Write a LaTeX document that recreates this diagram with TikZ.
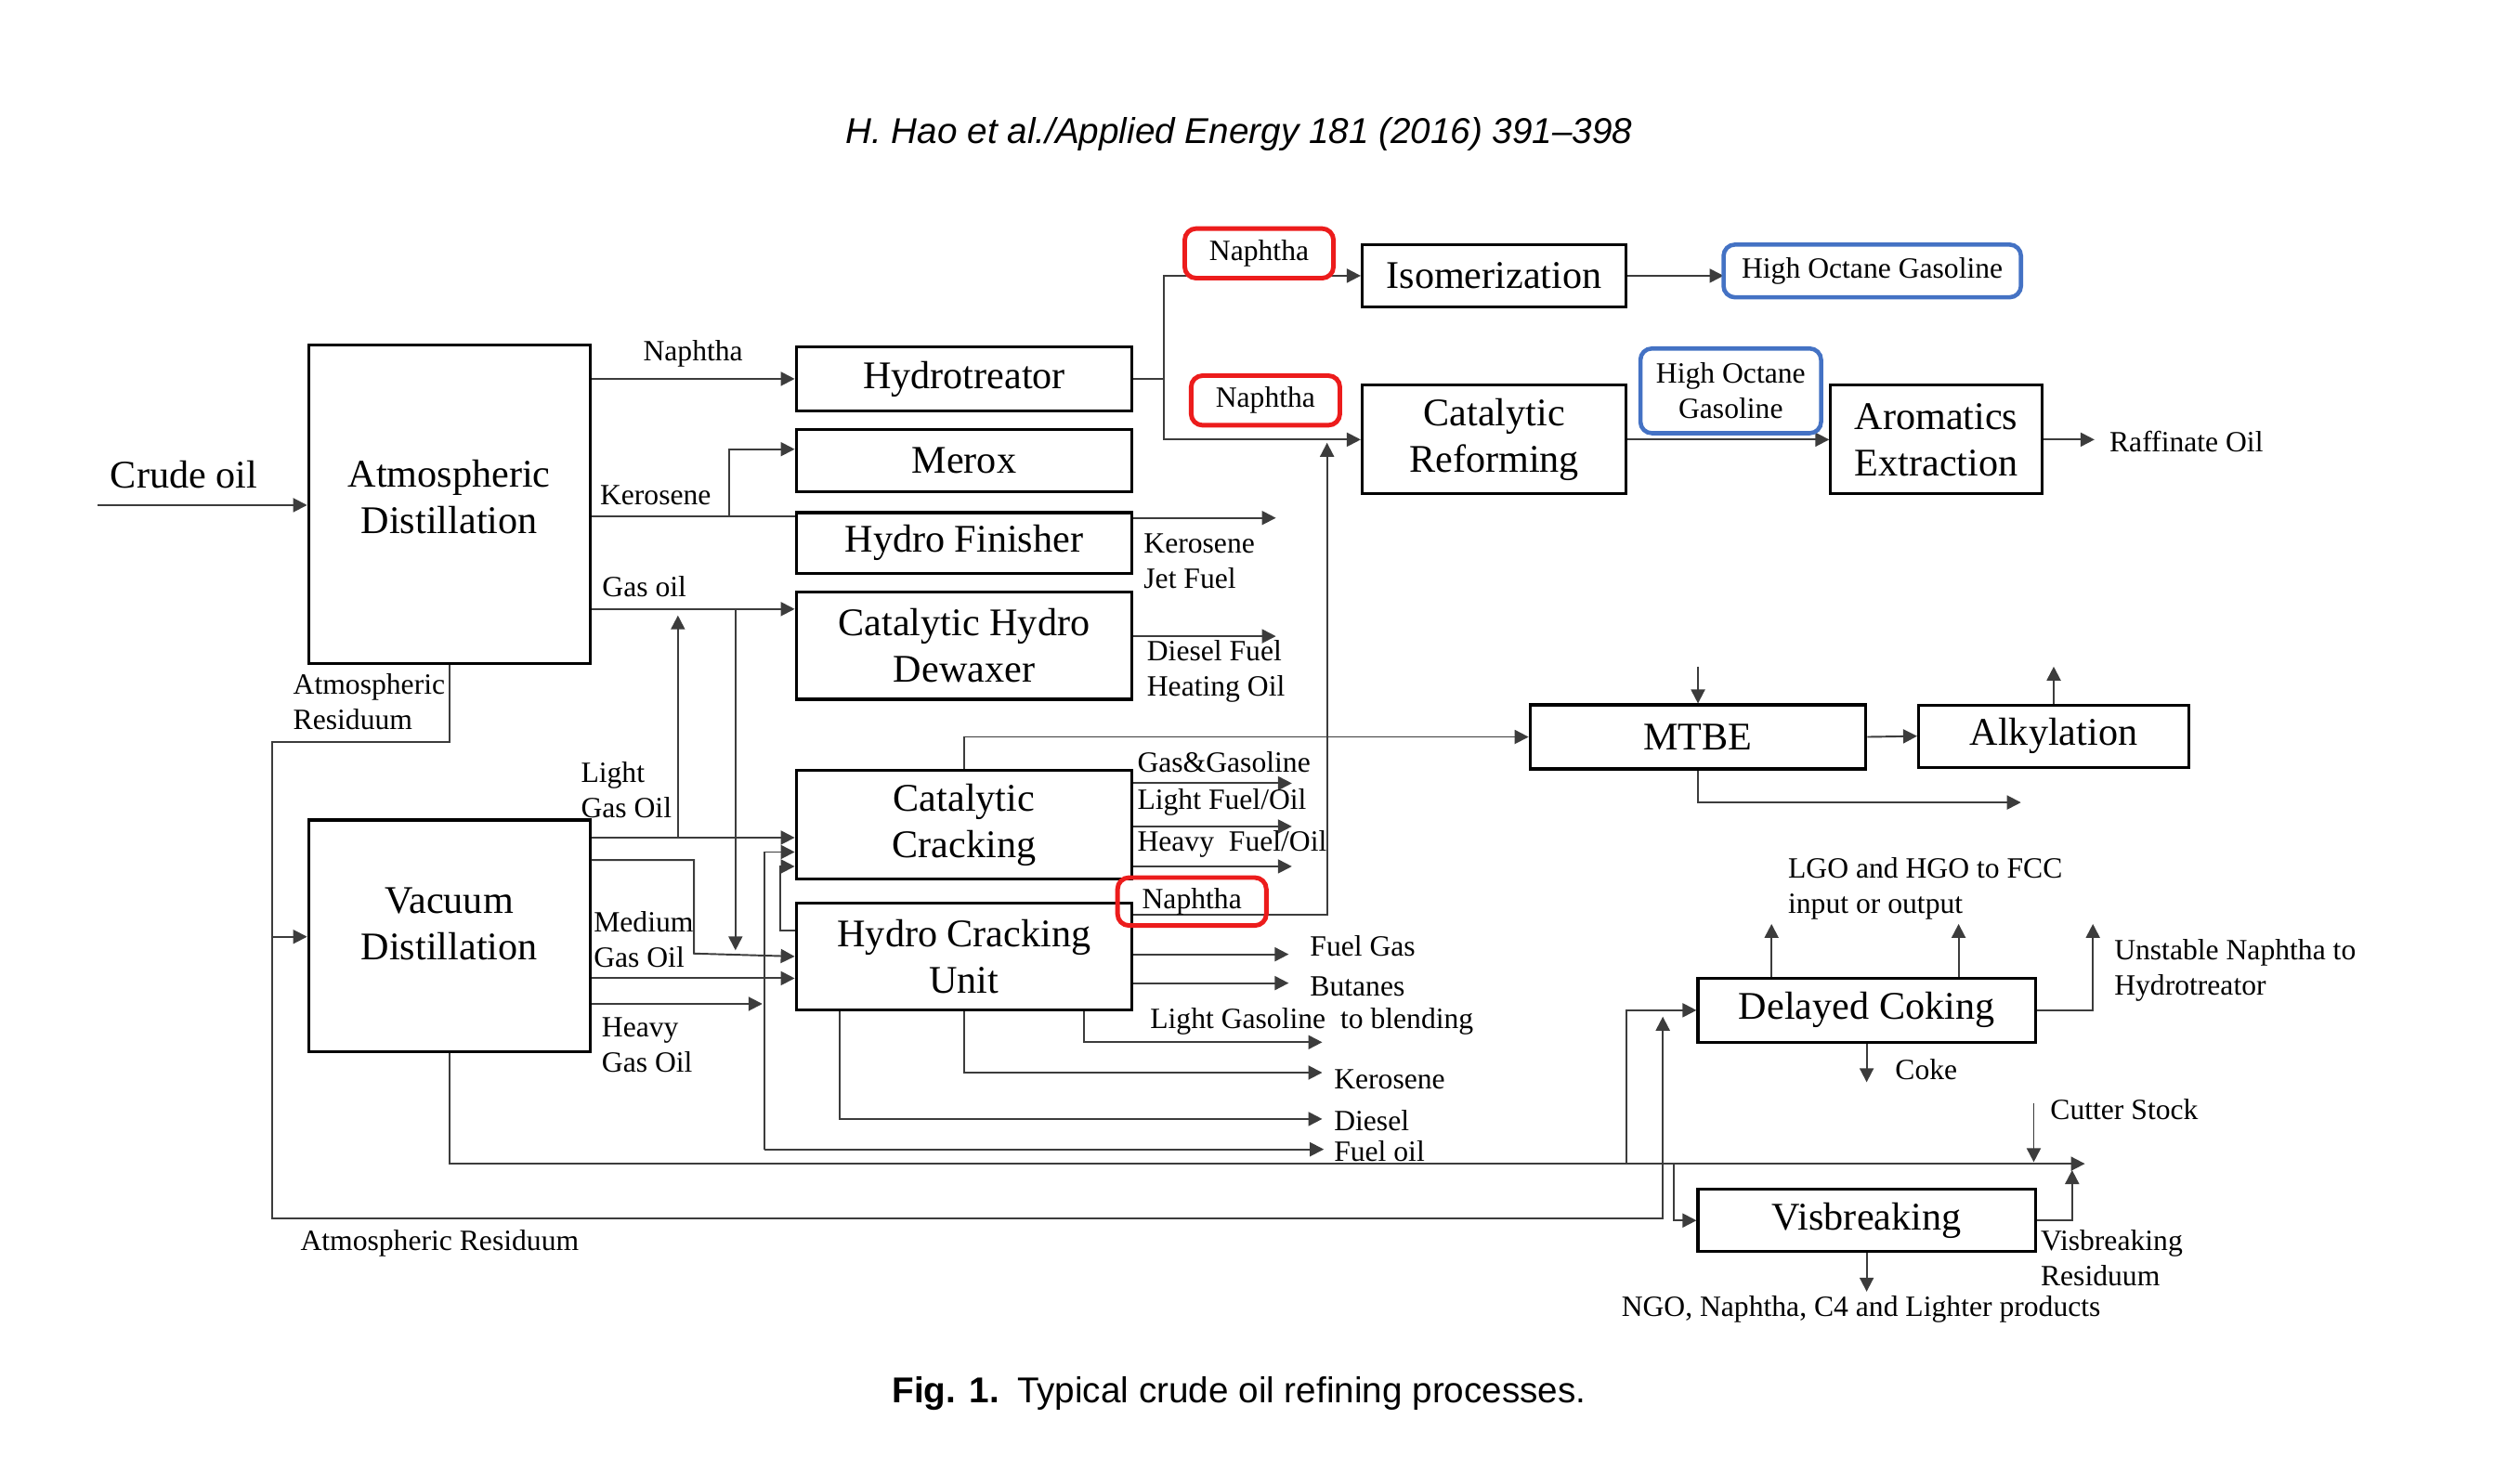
\documentclass[tikz,border=0pt]{standalone}
\usepackage{fontspec}
\setmainfont{Liberation Serif}
\setsansfont{Liberation Sans}
\usepackage{tikz}
\usetikzlibrary{
    positioning,
    arrows.meta
}
\definecolor{MarkRed}{RGB}{236,28,28}
\definecolor{MarkBlue}{RGB}{68,114,196}
\definecolor{LineGray}{RGB}{60,60,60}

\begin{document}
\begin{tikzpicture}[
    x=0.017213cm, y=-0.017213cm,
    proc/.style={rectangle, draw, line width=0.9pt, align=center, inner sep=0pt, font=\fontsize{12}{14.2}\selectfont, minimum width=3.615cm, minimum height=0.689cm},
    naph/.style={rectangle, rounded corners=3.5pt, draw=MarkRed, line width=1.4pt, inner sep=0pt, font=\fontsize{9}{10.8}\selectfont, minimum width=1.601cm, minimum height=0.534cm},
    hog/.style={rectangle, rounded corners=3.5pt, draw=MarkBlue, line width=1.3pt, inner sep=0pt, align=center, font=\fontsize{9}{10.8}\selectfont},
    ln/.style={draw=LineGray, line width=0.55pt},
    arr/.style={ln, -{Triangle[length=1.5mm,width=1.5mm]}},
    lbl/.style={font=\fontsize{9}{10.8}\selectfont, inner sep=0pt, align=left},
    big/.style={font=\fontsize{12}{14.2}\selectfont, inner sep=0pt},
]
\useasboundingbox (0,0) rectangle (1568,928);

% header and caption
\node[font=\sffamily\itshape\fontsize{11}{13}\selectfont] (head) at (775,84) {H. Hao et al./Applied Energy 181 (2016) 391--398};
\node[font=\sffamily\fontsize{11}{13}\selectfont] (cap) at (775,872) {\textbf{Fig. 1.}\enspace Typical crude oil refining processes.};

% distillation
\node[proc, minimum width=3.029cm, minimum height=3.425cm, text depth=0.17cm] (atm) at (281,315.5) {Atmospheric\\Distillation};
\node[proc, minimum width=3.029cm, minimum height=2.496cm, text depth=0.27cm] (vac) at (281,585.5) {Vacuum\\Distillation};

% treating and cracking units
\node[proc] (hydrotreat) at (603,237) {Hydrotreator};
\node[proc, minimum height=0.671cm, below=0.172cm of hydrotreat] (merox) {Merox};
\node[proc, minimum height=0.654cm, below=0.189cm of merox] (hfin) {Hydro Finisher};
\node[proc, minimum height=1.153cm, below=0.172cm of hfin] (dewax) {Catalytic Hydro\\Dewaxer};
\node[proc, minimum height=1.170cm] (catcrack) at (603,516) {Catalytic\\Cracking};
\node[proc, minimum height=1.153cm, below=0.224cm of catcrack] (hcrack) {Hydro Cracking\\Unit};

% naphtha upgrading, blending, residue units
\node[proc, minimum width=2.840cm, minimum height=0.671cm] (isom) at (934.5,172.5) {Isomerization};
\node[proc, minimum width=2.840cm, minimum height=1.170cm] (reform) at (934.5,275) {Catalytic\\Reforming};
\node[proc, minimum width=2.272cm, minimum height=1.170cm] (arom) at (1211,275) {Aromatics\\Extraction};
\node[proc] (mtbe) at (1062,461) {MTBE};
\node[proc, minimum width=2.909cm, minimum height=0.671cm] (alky) at (1284.5,460.5) {Alkylation};
\node[proc, minimum width=3.632cm] (coking) at (1167.5,632) {Delayed Coking};
\node[proc, minimum width=3.632cm, minimum height=0.671cm] (visbreak) at (1167.5,763.5) {Visbreaking};

% free ends and junctions
\coordinate (crude) at (61,316);
\coordinate (kerosplit) at (456,323);
\coordinate (gasdrop) at (460,381);
\coordinate (lgorise) at (424,524);
\coordinate (heavyjn) at (478,628);
\coordinate (fueloil) at (828,719);
\coordinate (ntsplit) at (728,237);
\coordinate (hcnaph) at (830,277);

% crude and atmospheric products
\draw[arr] (crude) -- (crude -| atm.west);
\node[big] at (115,297) {Crude oil};
\draw[arr] (atm.east |- hydrotreat.west) -- node[lbl, above=0.12cm] {Naphtha} (hydrotreat.west);
\draw[ln] (atm.east |- kerosplit) -- (hfin.west |- kerosplit);
\draw[arr] (kerosplit) |- (merox.west |- 0,281);
\node[lbl] at (410,310) {Kerosene};
\draw[arr] (atm.east |- gasdrop) -- (dewax.west |- gasdrop);
\node[lbl] at (403,367) {Gas oil};
\draw[arr] (gasdrop) -- (gasdrop |- 0,594.5);

% vacuum products
\draw[arr] (vac.east |- lgorise) -- (catcrack.west |- lgorise);
\draw[arr] (lgorise) -- (lgorise |- 0,385);
\draw[arr] (vac.east |- 0,538) -| (434,596.5) -- (hcrack.west);
\draw[arr] (vac.east |- 0,612) -- (hcrack.west |- 0,612);
\draw[arr] (vac.east |- heavyjn) -- ([xshift=-0.02cm]heavyjn);
\draw[arr] (heavyjn |- fueloil) |- (catcrack.west |- 0,533);
\draw[arr] (heavyjn |- fueloil) -- (fueloil);
\draw[arr] (hcrack.west |- 0,582) -| (488,542) -- (catcrack.west |- 0,542);
\node[lbl, anchor=west] at (363,494) {Light\\Gas Oil};
\node[lbl, anchor=west] at (371,588) {Medium\\Gas Oil};
\node[lbl, anchor=west] at (376,654) {Heavy\\Gas Oil};

% residuum lines
\draw[arr] (atm.south) |- (170,464) -- (170,762) -| (1040,636);
\draw[arr] (170,586) -- (vac.west |- 0,586);
\node[lbl, anchor=west] at (183,439) {Atmospheric\\Residuum};
\node[lbl] at (275,778) {Atmospheric Residuum};
\draw[arr] (vac.south) |- (1304,728);
\draw[arr] (1017,728) |- (coking.west);
\draw[arr] (1047,728) |- (visbreak.west);

% naphtha routing
\draw[ln] (hydrotreat.east) -- (ntsplit);
\draw[arr] (ntsplit) |- (isom.west);
\draw[arr] (ntsplit) |- (reform.west);
\draw[arr] (hcrack.east |- 0,572) -| (hcnaph);

% treating products
\draw[arr] (hfin.east |- 0,324) -- (798,324);
\node[lbl, anchor=west] at (715,351) {Kerosene\\Jet Fuel};
\draw[arr] (dewax.east |- 0,398) -- (798,398);
\node[lbl, anchor=west] at (717,420) {Diesel Fuel\\Heating Oil};

% cracking products
\foreach \yy in {490,517,542}
    \draw[arr] (catcrack.east |- 0,\yy) -- (808,\yy);
\node[lbl, anchor=west] at (711,477) {Gas\&Gasoline};
\node[lbl, anchor=west] at (711,502) {Light Fuel/Oil};
\node[lbl, anchor=west] at (711,528) {Heavy~ Fuel/Oil};
\draw[arr] (catcrack.north) |- (mtbe.west);
\foreach \yy in {597,615}
    \draw[arr] (hcrack.east |- 0,\yy) -- (806,\yy);
\node[lbl, anchor=west] at (819,592) {Fuel Gas};
\node[lbl, anchor=west] at (819,617) {Butanes};
\draw[arr] ([xshift=1.291cm]hcrack.south) |- (827,652);
\draw[arr] (hcrack.south) |- (827,671);
\draw[arr] ([xshift=-1.343cm]hcrack.south) |- (827,700);
\node[lbl, anchor=west] at (719,639) {Light Gasoline~ to blending};
\node[lbl, anchor=west] at (834,675) {Kerosene};
\node[lbl, anchor=west] at (834,701) {Diesel};
\node[lbl, anchor=west] at (834,720) {Fuel oil};

% gasoline side
\draw[arr] (isom.east) -- (isom.east -| 1078,0);
\draw[arr] (reform.east) -- (arom.west);
\draw[arr] (arom.east) -- (1310,275);
\node[lbl, anchor=west] at (1319,276) {Raffinate Oil};
\draw[arr] (1062,417) -- (mtbe.north);
\draw[arr] (mtbe.east) -- (alky.west);
\draw[arr] (alky.north) -- (1284.5,417);
\draw[arr] (mtbe.south) |- (1264,502);

% coking and visbreaking
\draw[arr] (coking.north -| 1108,0) -- (1108,578);
\draw[arr] (coking.north -| 1225,0) -- (1225,578);
\node[lbl, anchor=west] at (1118,556) {LGO and HGO to FCC\\input or output};
\draw[arr] (coking.east) -| (1309,578);
\node[lbl, anchor=west] at (1322,607) {Unstable Naphtha to\\Hydrotreator};
\draw[arr] (coking.south) -- (1167.5,677);
\node[lbl, anchor=west] at (1185,669) {Coke};
\draw[arr] (1272,690) -- (1272,727);
\node[lbl, anchor=west] at (1282,694) {Cutter Stock};
\draw[arr] (visbreak.east) -| (1296,732);
\node[lbl, anchor=west] at (1276,787) {Visbreaking\\Residuum};
\draw[arr] (visbreak.south) -- (1167.5,808);
\node[lbl] at (1164,819) {NGO, Naphtha, C4 and Lighter products};

% highlighted streams
\node[naph, fill=white] (naph1) at (787.5,158.5) {Naphtha};
\node[naph] (naph2) at (791.5,250.5) {Naphtha};
\node[naph, minimum height=0.516cm] (naph3) at (745.5,564) {Naphtha};
\node[hog, minimum width=3.202cm, minimum height=0.568cm] (hog1) at (1171,169.5) {High Octane Gasoline};
\node[hog, minimum width=1.945cm, minimum height=0.912cm, fill=white] (hog2) at (1082.5,244.5) {High Octane\\Gasoline};
\end{tikzpicture}
\end{document}
